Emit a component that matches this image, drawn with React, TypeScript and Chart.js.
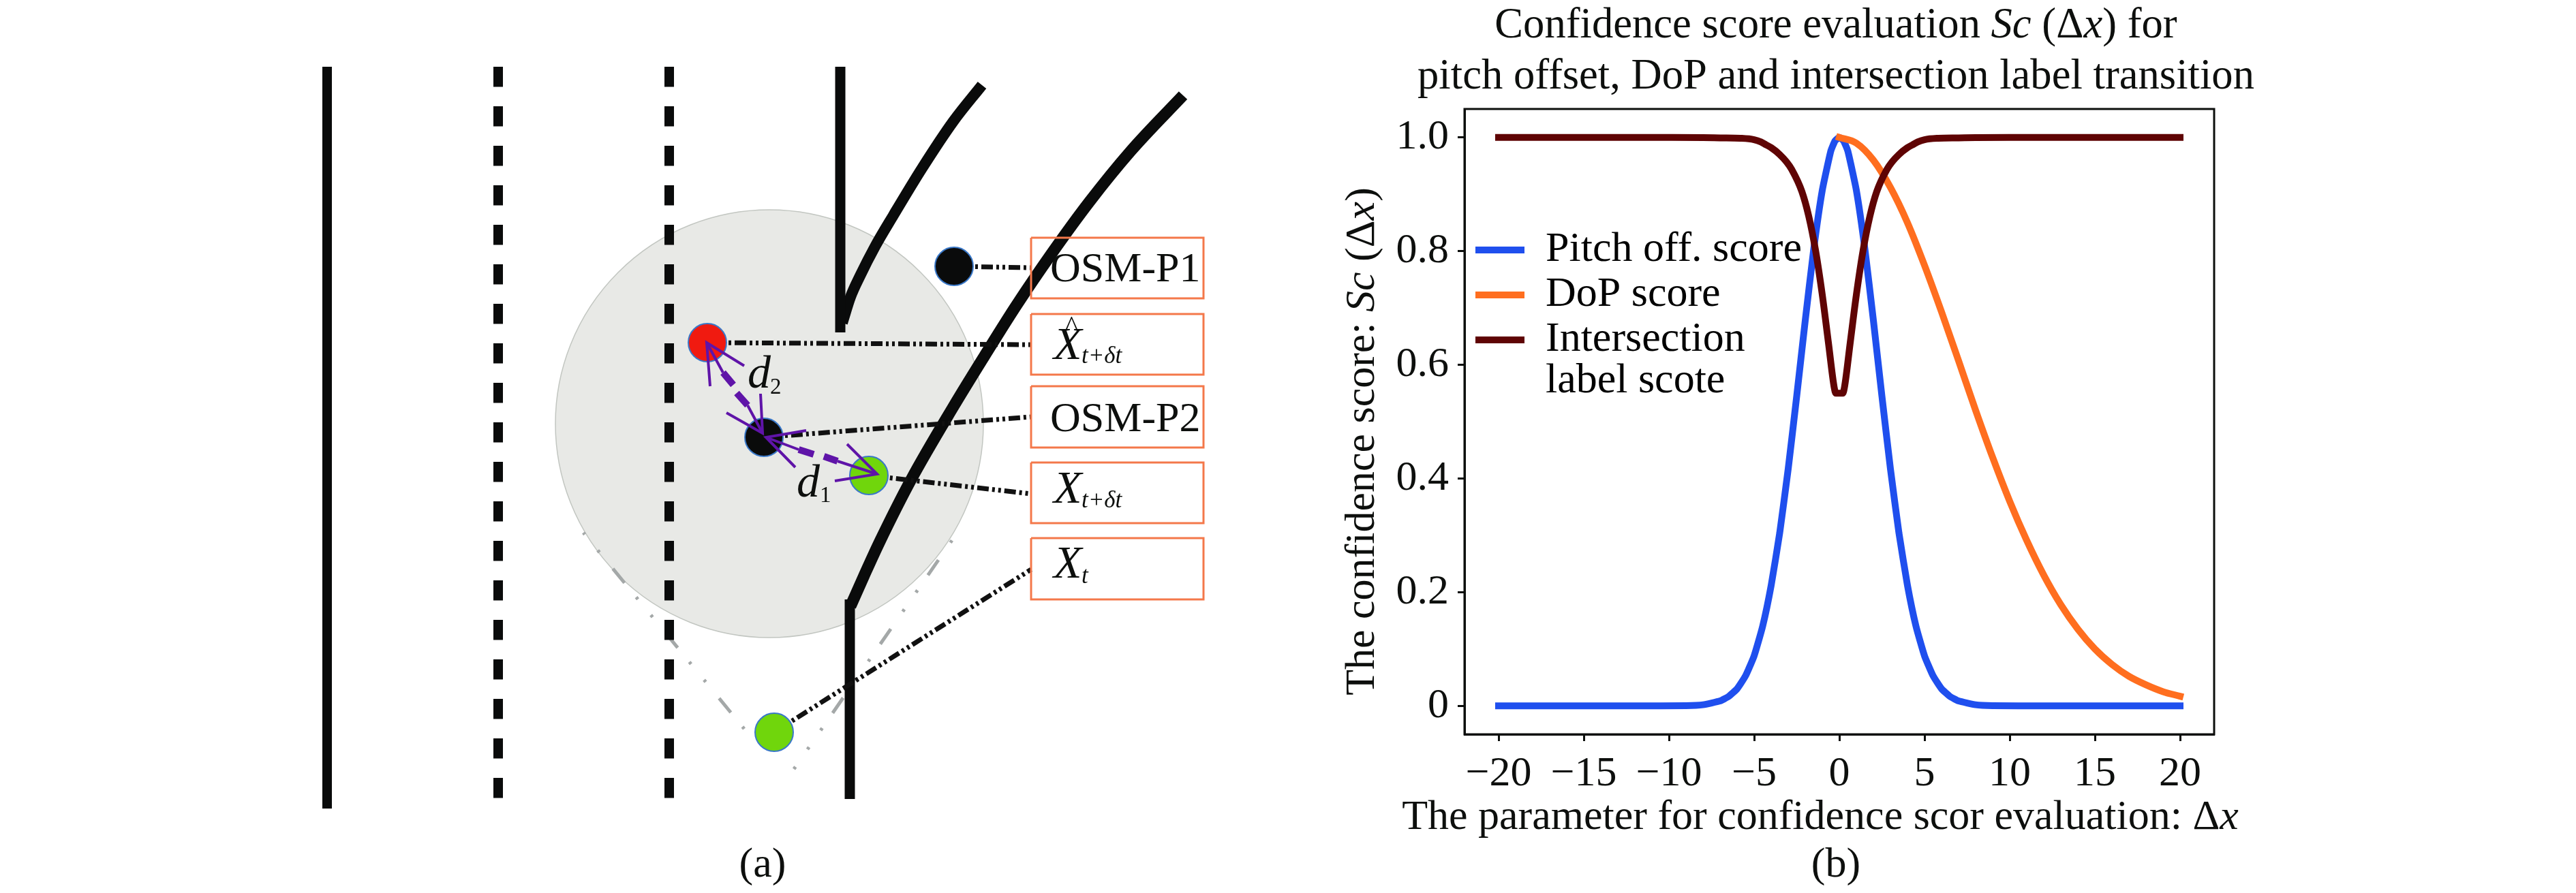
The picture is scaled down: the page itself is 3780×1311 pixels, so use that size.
import React, { useEffect, useRef } from "react";
import { Chart, registerables } from "chart.js";

Chart.register(...registerables);

const SERIF = '"Liberation Serif", "Times New Roman", serif';

/* ---------- panel (b): values ---------- */
const pitchX = [-20,-12,-9,-8,-7,-6.5,-6,-5.5,-5,-4.5,-4,-3.5,-3,-2.5,-2,-1.5,-1,-0.5,-0.25,0,0.25,0.5,1,1.5,2,2.5,3,3.5,4,4.5,5,5.5,6,6.5,7,8,9,12,20];
const pitchY = [0,0,0.0004,0.002,0.0086,0.0165,0.03,0.053,0.088,0.14,0.212,0.304,0.417,0.545,0.678,0.804,0.907,0.976,0.994,1,0.994,0.976,0.907,0.804,0.678,0.545,0.417,0.304,0.212,0.14,0.088,0.053,0.03,0.0165,0.0086,0.002,0.0004,0,0];
const dopX = [0,1,2,3,4,5,6,7,8,9,10,11,12,13,14,15,16,17,18,19,20];
const dopY = [1,0.99,0.96,0.912,0.85,0.775,0.693,0.607,0.52,0.437,0.36,0.291,0.23,0.178,0.135,0.1,0.073,0.052,0.037,0.025,0.017];
const interX = [-20,-10,-8,-7,-5.8,-5,-4.6,-4.3,-4,-3.5,-3.1,-2.8,-2.2,-1.8,-1.4,-1,-0.64,-0.3,-0.2,0.2,0.3,0.64,1,1.4,1.8,2.2,2.8,3.1,3.5,4,4.3,4.6,5,5.8,7,8,10,20];
const interY = [1,1,0.9997,0.9992,0.9985,0.996,0.992,0.987,0.982,0.97,0.957,0.944,0.905,0.862,0.802,0.723,0.639,0.56,0.55,0.55,0.56,0.639,0.723,0.802,0.862,0.905,0.944,0.957,0.97,0.982,0.987,0.992,0.996,0.9985,0.9992,0.9997,1,1];
const seriesNames = ["Pitch off. score", "DoP score", ["Intersection", "label scote"]];
const seriesColors = ["#1f4fee", "#ff6e1f", "#5f0404"];
const xTicks = [-20,-15,-10,-5,0,5,10,15,20];
const yTicks = [0,0.2,0.4,0.6,0.8,1.0];
const titleLine1 = [["Confidence score evaluation ",false],["Sc",true],[" (Δ",false],["x",true],[") for",false]];
const titleLine2 = [["pitch offset, DoP and intersection label transition",false]];
const xTitle = [["The parameter for confidence scor evaluation: Δ",false],["x",true]];
const yTitle = [["The confidence score: ",false],["Sc",true],[" (Δ",false],["x",true],[")",false]];

/* ---------- panel (a): schematic, in picture units ---------- */
const laneSolid = [[480,98],[480,1187]];
const laneDash1 = [[731,98],[731,1177]];
const laneDash2 = [[982,98],[982,1177]];
const roadA = [[1233,98],[1233,488]];
const roadACurve = [[1236,474],[1248,436],[1262,405],[1284,362],[1311,316],[1353,247],[1399,178],[1441,125]];
const roadB = [[1247,1173],[1247,880]];
const roadBCurve = [[1248,890],[1268,845],[1291,795],[1337,704],[1399,597],[1445,522],[1491,449],[1544,371],[1598,297],[1659,222],[1736,140]];
const zone = [[1129,622]];
const coneLeft = [[1092,1070],[856,782]];
const coneRight = [[1165,1129],[1413,770]];
const blackPts = [[1400,391],[1121,642]];
const redPts = [[1038,503]];
const greenPts = [[1275,698],[1136,1075]];
const links = [
  [[1400,391],[1513,393]],
  [[1038,503],[1513,506]],
  [[1121,642],[1513,612]],
  [[1275,698],[1513,725]],
  [[1136,1075],[1513,836]],
];
const boxes = [[349,438],[461,550],[567,657],[679,768],[790,880]];
const boxLeft = 1513;
const boxRight = 1766;
const arrowThin = [
  [[1037,503],[1061,547]],
  [[1097,595],[1119,636]],
  [[1124,642],[1172,660]],
  [[1229,677],[1287,696]],
];
const arrowThick = [
  [[1061,547],[1076,565]],
  [[1081,577],[1097,595]],
  [[1172,660],[1194,667]],
  [[1209,670],[1229,677]],
];
const arrowHeads = [
  [[1042,567],[1037,503],[1092,537]],
  [[1116,578],[1119,636],[1066,606]],
  [[1183,632],[1124,642],[1167,686]],
  [[1243,652],[1287,696],[1225,706]],
];
const schematicLabels = [
  { t: "OSM-P1", x: 1541, y: 413, s: 62, i: false },
  { t: "X", x: 1546, y: 527, s: 68, i: true },
  { t: "^", x: 1563, y: 492, s: 40, i: false },
  { t: "t+δt", x: 1587, y: 533, s: 35, i: true },
  { t: "OSM-P2", x: 1541, y: 633, s: 62, i: false },
  { t: "X", x: 1546, y: 738, s: 68, i: true },
  { t: "t+δt", x: 1587, y: 745, s: 35, i: true },
  { t: "X", x: 1546, y: 848, s: 68, i: true },
  { t: "t", x: 1587, y: 856, s: 35, i: true },
  { t: "d", x: 1097, y: 569, s: 68, i: true },
  { t: "2", x: 1130, y: 578, s: 33, i: false },
  { t: "d", x: 1169, y: 729, s: 68, i: true },
  { t: "1", x: 1203, y: 737, s: 33, i: false },
];
const captionA = "(a)";
const captionB = "(b)";

const toXY = (p: number[][]) => p.map(([x, y]) => ({ x, y }));
const zip = (xs: number[], ys: number[]) => xs.map((x, i) => ({ x, y: ys[i] }));

const line = (points: number[][], color: string, width: number, order: number, extra: any = {}) => ({
  data: toXY(points),
  showLine: true,
  borderColor: color,
  borderWidth: width,
  pointRadius: 0,
  order,
  clip: false,
  ...extra,
});
const dots = (points: number[][], fill: string, radius: number, order: number, border = "#3a78c8", bw = 2) => ({
  data: toXY(points),
  showLine: false,
  backgroundColor: fill,
  borderColor: border,
  borderWidth: bw,
  pointRadius: radius,
  pointHoverRadius: radius,
  order,
  clip: false,
});

const INK = "#0d0f0d";

function drawRuns(ctx: any, runs: any[], cx: number, y: number, size: number) {
  const fontOf = (it: boolean) => `${it ? "italic " : ""}${size}px ${SERIF}`;
  let total = 0;
  for (const [t, it] of runs) {
    ctx.font = fontOf(it);
    total += ctx.measureText(t).width;
  }
  let x = cx - total / 2;
  ctx.textAlign = "left";
  ctx.textBaseline = "alphabetic";
  ctx.fillStyle = INK;
  for (const [t, it] of runs) {
    ctx.font = fontOf(it);
    ctx.fillText(t, x, y);
    x += ctx.measureText(t).width;
  }
}

export default function App() {
  const aRef = useRef<HTMLCanvasElement>(null);
  const bRef = useRef<HTMLCanvasElement>(null);

  useEffect(() => {
    const W = 1890;
    const H = 1311;

    const schematicText = {
      id: "schematicText",
      afterDatasetsDraw(chart: any) {
        const { ctx, scales } = chart;
        ctx.save();
        ctx.fillStyle = INK;
        ctx.textBaseline = "alphabetic";
        ctx.textAlign = "left";
        for (const l of schematicLabels) {
          ctx.font = `${l.i ? "italic " : ""}${l.s}px ${SERIF}`;
          ctx.fillText(l.t, scales.x.getPixelForValue(l.x), scales.y.getPixelForValue(l.y));
        }
        ctx.textAlign = "center";
        ctx.font = `62px ${SERIF}`;
        ctx.fillText(captionA, scales.x.getPixelForValue(1119), scales.y.getPixelForValue(1287));
        ctx.restore();
      },
    };

    const conePattern = [27, 31, 4, 30, 4, 27];

    const chartA = new Chart(aRef.current as any, {
      type: "scatter",
      data: {
        datasets: [
          dots(zone, "#e8e9e6", 314, 100, "#c2c6c1", 1.5),
          line(coneLeft, "#a4a8a8", 5, 90, { borderDash: conePattern, borderDashOffset: 92 }),
          line(coneRight, "#a4a8a8", 5, 90, { borderDash: conePattern, borderDashOffset: 23 }),
          line(laneSolid, "#0a0b0b", 14, 80),
          line(laneDash1, "#0a0b0b", 14, 80, { borderDash: [29.5, 28.5] }),
          line(laneDash2, "#0a0b0b", 14, 80, { borderDash: [29.5, 28.5] }),
          line(roadA, "#0a0b0b", 15, 80),
          line(roadACurve, "#0a0b0b", 16, 80, { cubicInterpolationMode: "monotone" }),
          line(roadB, "#0a0b0b", 15, 80),
          line(roadBCurve, "#0a0b0b", 17, 80, { cubicInterpolationMode: "monotone" }),
          ...links.map((p) => line(p, "#111111", 7, 70, { borderDash: [17, 5, 4, 5, 4, 5] })),
          dots(blackPts, "#0a0b0b", 28, 60),
          dots(redPts, "#f01a10", 28, 60),
          dots(greenPts, "#70d60c", 28, 60),
          ...arrowThin.map((p) => line(p, "#5f14a8", 4, 50)),
          ...arrowThick.map((p) => line(p, "#5f14a8", 10, 50)),
          ...arrowHeads.map((p) => line(p, "#5f14a8", 4, 50)),
          ...boxes.map(([t, b]) =>
            line([[boxLeft,t],[boxRight,t],[boxRight,b],[boxLeft,b],[boxLeft,t]], "#f4784a", 3, 40)
          ),
        ] as any,
      },
      options: {
        animation: false,
        responsive: false,
        maintainAspectRatio: false,
        layout: { padding: 0, autoPadding: false },
        plugins: { legend: { display: false }, tooltip: { enabled: false } },
        scales: {
          x: { type: "linear", display: false, min: 0, max: W },
          y: { type: "linear", display: false, min: 0, max: H, reverse: true },
        },
      },
      plugins: [schematicText],
    } as any);

    const axisFrame = {
      id: "axisFrame",
      afterDraw(chart: any) {
        const { ctx, chartArea: a } = chart;
        ctx.save();
        ctx.strokeStyle = INK;
        ctx.lineWidth = 3;
        ctx.strokeRect(a.left, a.top, a.right - a.left, a.bottom - a.top);
        const off = 1890;
        drawRuns(ctx, titleLine1, 2694 - off, 55, 62.6);
        drawRuns(ctx, titleLine2, 2694 - off, 130, 62.6);
        drawRuns(ctx, xTitle, 2671 - off, 1217, 62);
        drawRuns(ctx, [[captionB, false]], 2694 - off, 1287, 62);
        ctx.translate(2016 - off, 648);
        ctx.rotate(-Math.PI / 2);
        drawRuns(ctx, yTitle, 0, 0, 62);
        ctx.restore();
      },
    };

    const tickFont = { family: SERIF, size: 62 };
    const fmtMinus = (v: number) => (v < 0 ? "\u2212" + Math.abs(v) : String(v));

    const chartB = new Chart(bRef.current as any, {
      type: "scatter",
      data: {
        datasets: [
          { label: "p", data: zip(pitchX, pitchY), borderColor: seriesColors[0], backgroundColor: seriesColors[0], order: 3, tension: 0.15 },
          { label: "d", data: zip(dopX, dopY), borderColor: seriesColors[1], backgroundColor: seriesColors[1], order: 2, cubicInterpolationMode: "monotone" },
          { label: "i", data: zip(interX, interY), borderColor: seriesColors[2], backgroundColor: seriesColors[2], order: 1, cubicInterpolationMode: "monotone" },
        ].map((d) => ({ ...d, showLine: true, borderWidth: 10, pointRadius: 0, borderJoinStyle: "round", borderCapStyle: "square" })) as any,
      },
      options: {
        animation: false,
        responsive: false,
        maintainAspectRatio: false,
        layout: { padding: { left: 0, top: 160, right: 531, bottom: 0 } },
        plugins: {
          tooltip: { enabled: false },
          legend: {
            position: "chartArea",
            align: "start",
            labels: {
              usePointStyle: true,
              pointStyle: "line",
              pointStyleWidth: 72,
              boxHeight: 60,
              padding: 4,
              color: INK,
              font: { family: SERIF, size: 62, lineHeight: 0.98 },
              generateLabels: () =>
                seriesNames.map((n, i) => ({
                  text: n,
                  strokeStyle: seriesColors[i],
                  fillStyle: seriesColors[i],
                  lineWidth: 10,
                  pointStyle: "line",
                  datasetIndex: i,
                })),
            },
          },
        },
        scales: {
          x: {
            type: "linear",
            min: -22,
            max: 22,
            afterFit: (s: any) => { s.height = 233; },
            afterBuildTicks: (s: any) => { s.ticks = xTicks.map((value) => ({ value })); },
            grid: { drawOnChartArea: false, drawTicks: true, tickLength: 10, tickWidth: 3, tickColor: INK },
            border: { display: true, color: INK, width: 3 },
            ticks: { font: tickFont, color: INK, padding: 12, maxRotation: 0, autoSkip: false, callback: (v: any) => fmtMinus(v) },
          },
          y: {
            type: "linear",
            min: -0.05,
            max: 1.05,
            afterFit: (s: any) => { s.width = 259; },
            afterBuildTicks: (s: any) => { s.ticks = yTicks.map((value) => ({ value })); },
            grid: { drawOnChartArea: false, drawTicks: true, tickLength: 10, tickWidth: 3, tickColor: INK },
            border: { display: true, color: INK, width: 3 },
            ticks: { font: tickFont, color: INK, padding: 13, autoSkip: false, callback: (v: any) => (v === 0 ? "0" : Number(v).toFixed(1)) },
          },
        },
      },
      plugins: [
        axisFrame,
        {
          id: "legendPlacement",
          afterLayout(chart: any) {
            const lg = chart.legend;
            const a = chart.chartArea;
            lg.left = a.left + 12;
            lg.top = a.top + 172;
          },
        },
      ],
    } as any);

    return () => {
      chartA.destroy();
      chartB.destroy();
    };
  }, []);

  return (
    <div style={{ position: "absolute", left: 0, top: 0, width: 3780, height: 1311, background: "#fff", overflow: "hidden" }}>
      <canvas ref={aRef} width={1890} height={1311} style={{ position: "absolute", left: 0, top: 0, width: 1890, height: 1311 }} />
      <canvas ref={bRef} width={1890} height={1311} style={{ position: "absolute", left: 1890, top: 0, width: 1890, height: 1311 }} />
    </div>
  );
}
